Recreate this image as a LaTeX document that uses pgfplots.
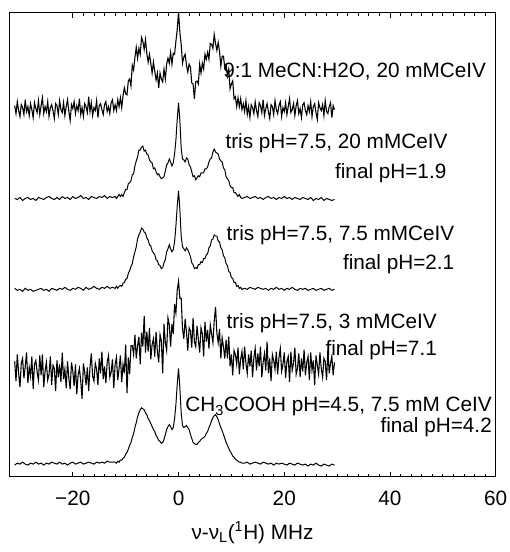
\documentclass[border=0pt]{standalone}
\usepackage{fontspec}
\setmainfont{Liberation Sans}
\usepackage{pgfplots}
\usepackage{pgfplotstable}
\pgfplotsset{compat=1.18}

\newcommand{\lbl}{\fontsize{21}{25}\selectfont}

% top trace: 9:1 MeCN:H2O
\pgfplotstableread{
x y
-31 3
-30.75 -5
-30.5 7
-30.25 -2
-30 -8
-29.75 4
-29.5 1
-29.25 -6
-29 9
-28.75 -3
-28.5 2
-28.25 -7
-28 5
-27.75 -1
-27.5 -9
-27.25 6
-27 0
-26.75 -4
-26.5 8
-26.25 -6
-26 3
-25.75 11
-25.5 -5
-25.25 2
-25 -3
-24.75 7
-24.5 -8
-24.25 1
-24 4
-23.75 -2
-23.5 -10
-23.25 5
-23 3
-22.75 -6
-22.5 8
-22.25 -1
-22 -4
-21.75 6
-21.5 -7
-21.25 2
-21 9
-20.75 -3
-20.5 -12
-20.25 4
-20 0
-19.75 7
-19.5 -5
-19.25 3
-19 -2
-18.75 10
-18.5 -6
-18.25 1
-18 -8
-17.75 5
-17.5 2
-17.25 -4
-17 12
-16.75 -3
-16.5 6
-16.25 -7
-16 1
-15.75 -2
-15.5 8
-15.25 -9
-15 3
-14.75 5
-14.5 -1
-14.25 -6
-14 4
-13.75 7
-13.5 -3
-13.25 2
-13 -5
-12.75 6
-12.5 9
-12.25 -2
-12 4
-11.75 -2
-11.5 9
-11.25 2
-11 11
-10.75 1
-10.5 13
-10.25 21
-10 15
-9.75 14
-9.5 28
-9.25 30
-9 23
-8.75 44
-8.5 39
-8.25 52
-8 62
-7.75 51
-7.5 61
-7.25 55
-7 72
-6.75 68
-6.5 60
-6.25 70
-6 56
-5.75 47
-5.5 55
-5.25 46
-5 36
-4.75 47
-4.5 38
-4.25 29
-4 36
-3.75 21
-3.5 36
-3.25 30
-3 27
-2.75 40
-2.5 30
-2.25 45
-2 51
-1.75 46
-1.5 57
-1.25 45
-1 56
-0.75 55
-0.5 68
-0.25 80
0 98
0.25 77
0.5 65
0.75 46
1 52
1.25 55
1.5 44
1.75 37
2 45
2.25 42
2.5 26
2.75 25
3 10
3.25 27
3.5 28
3.75 25
4 45
4.25 36
4.5 46
4.75 40
5 55
5.25 50
5.5 57
5.75 50
6 66
6.25 65
6.5 61
6.75 75
7 66
7.25 59
7.5 67
7.75 58
8 43
8.25 53
8.5 53
8.75 41
9 44
9.25 33
9.5 40
9.75 20
10 25
10.25 28
10.5 10
10.75 12
11 2
11.25 11
11.5 2
11.75 10
12 -1
12.25 5
12.5 -3
12.75 8
13 -6
13.25 2
13.5 -9
13.75 4
14 1
14.25 -5
14.5 7
14.75 -2
15 -8
15.25 6
15.5 3
15.75 -4
16 9
16.25 -7
16.5 0
16.75 5
17 -3
17.25 -10
17.5 4
17.75 2
18 -6
18.25 8
18.5 -1
18.75 -5
19 3
19.25 7
19.5 -8
19.75 1
20 -3
20.25 6
20.5 -6
20.75 2
21 10
21.25 -4
21.5 -1
21.75 5
22 -7
22.25 3
22.5 8
22.75 -5
23 0
23.25 -9
23.5 4
23.75 6
24 -2
24.25 -6
24.5 3
24.75 -3
25 7
25.25 -8
25.5 2
25.75 5
26 -4
26.25 -11
26.5 6
26.75 1
27 -2
27.25 4
27.5 -7
27.75 8
28 -3
28.25 -5
28.5 2
28.75 6
29 -9
29.25 3
29.5 -1
}\tA

% tris pH 7.5, 20 mM
\pgfplotstableread{
x y
-31 0
-30.5 -1
-30 1
-29.5 -2
-29 0
-28.5 1
-28 -1
-27.5 0
-27 -2
-26.5 1
-26 0
-25.5 -1
-25 1
-24.5 2
-24 0
-23.5 -1
-23 1
-22.5 -1
-22 2
-21.5 0
-21 1
-20.5 -1
-20 2
-19.5 0
-19 1
-18.5 3
-18 0
-17.5 1
-17 -1
-16.5 2
-16 1
-15.5 0
-15 2
-14.5 1
-14 3
-13.5 0
-13 2
-12.5 1
-12 2
-11.75 0
-11.5 2
-11.25 4
-11 2
-10.75 4
-10.5 2
-10.25 6
-10 9
-9.75 9
-9.5 15
-9.25 16
-9 18
-8.75 24
-8.5 25
-8.25 33
-8 38
-7.75 42
-7.5 49
-7.25 49
-7 52
-6.75 53
-6.5 48
-6.25 49
-6 45
-5.75 44
-5.5 39
-5.25 37
-5 36
-4.75 30
-4.5 31
-4.25 27
-4 24
-3.75 25
-3.5 22
-3.25 20
-3 21
-2.75 22
-2.5 28
-2.25 34
-2 36
-1.75 40
-1.5 37
-1.25 33
-1 36
-0.75 45
-0.5 59
-0.25 80
0 97
0.25 79
0.5 51
0.75 40
1 39
1.25 37
1.5 41
1.75 40
2 34
2.25 32
2.5 27
2.75 22
3 23
3.25 19
3.5 21
3.75 23
4 22
4.25 26
4.5 26
4.75 26
5 30
5.25 30
5.5 32
5.75 37
6 40
6.25 41
6.5 47
6.75 50
7 47
7.25 46
7.5 45
7.75 40
8 38
8.25 37
8.5 31
8.75 29
9 22
9.25 20
9.5 18
9.75 13
10 11
10.25 11
10.5 6
10.75 6
11 4
11.25 2
11.5 4
11.75 1
12 0
12.5 1
13 2
13.5 0
14 1
14.5 2
15 0
15.5 1
16 -1
16.5 1
17 2
17.5 0
18 1
18.5 -1
19 1
19.5 0
20 2
20.5 0
21 1
21.5 -1
22 1
22.5 0
23 -1
23.5 1
24 0
24.5 -1
25 1
25.5 -2
26 0
26.5 -1
27 1
27.5 -2
28 0
28.5 -1
29 -2
29.5 -1
}\tB

% tris pH 7.5, 7.5 mM
\pgfplotstableread{
x y
-31 1
-30.5 -1
-30 0
-29.5 -2
-29 1
-28.5 -1
-28 0
-27.5 -2
-27 -1
-26.5 0
-26 1
-25.5 -1
-25 0
-24.5 -2
-24 1
-23.5 0
-23 -1
-22.5 1
-22 0
-21.5 2
-21 0
-20.5 -1
-20 1
-19.5 0
-19 2
-18.5 1
-18 -1
-17.5 2
-17 0
-16.5 1
-16 3
-15.5 1
-15 0
-14.5 2
-14 1
-13.5 3
-13 1
-12.5 2
-12 1
-11.75 3
-11.5 1
-11.25 3
-11 4
-10.75 3
-10.5 6
-10.25 7
-10 10
-9.75 11
-9.5 16
-9.25 19
-9 23
-8.75 26
-8.5 33
-8.25 38
-8 43
-7.75 51
-7.5 55
-7.25 58
-7 62
-6.75 61
-6.5 58
-6.25 57
-6 52
-5.75 50
-5.5 45
-5.25 44
-5 39
-4.75 37
-4.5 35
-4.25 30
-4 29
-3.75 25
-3.5 24
-3.25 21
-3 22
-2.75 27
-2.5 30
-2.25 38
-2 41
-1.75 45
-1.5 41
-1.25 38
-1 40
-0.75 48
-0.5 64
-0.25 84
0 100
0.25 81
0.5 54
0.75 43
1 41
1.25 39
1.5 42
1.75 40
2 37
2.25 33
2.5 27
2.75 25
3 21
3.25 22
3.5 21
3.75 25
4 25
4.25 28
4.5 27
4.75 31
5 31
5.25 35
5.5 36
5.75 42
6 44
6.25 50
6.5 51
6.75 55
7 54
7.25 54
7.5 49
7.75 48
8 42
8.25 40
8.5 34
8.75 32
9 26
9.25 24
9.5 18
9.75 17
10 12
10.25 11
10.5 7
10.75 7
11 3
11.25 4
11.5 1
11.75 2
12 0
12.5 1
13 0
13.5 2
14 1
14.5 0
15 2
15.5 1
16 0
16.5 1
17 -1
17.5 1
18 0
18.5 2
19 0
19.5 1
20 -1
20.5 1
21 0
21.5 2
22 0
22.5 -1
23 1
23.5 0
24 1
24.5 -1
25 0
25.5 1
26 -1
26.5 0
27 1
27.5 -1
28 0
28.5 1
29 -1
29.5 0
}\tC

% tris pH 7.5, 3 mM
\pgfplotstableread{
x y
-31 11
-30.75 -9
-30.5 18
-30.25 -1
-30 -15
-29.75 9
-29.5 14
-29.25 -6
-29 6
-28.75 20
-28.5 -11
-28.25 5
-28 -4
-27.75 16
-27.5 -17
-27.25 8
-27 12
-26.75 0
-26.5 -8
-26.25 17
-26 -3
-25.75 18
-25.5 -15
-25.25 1
-25 10
-24.75 -8
-24.5 -2
-24.25 16
-24 -13
-23.75 7
-23.5 4
-23.25 -19
-23 12
-22.75 -5
-22.5 8
-22.25 -10
-22 20
-21.75 -7
-21.5 3
-21.25 -16
-21 11
-20.75 -6
-20.5 -17
-20.25 10
-20 1
-19.75 -14
-19.5 8
-19.25 -22
-19 -3
-18.75 4
-18.5 -9
-18.25 -27
-18 9
-17.75 0
-17.5 -13
-17.25 5
-17 -19
-16.75 5
-16.5 19
-16.25 -4
-16 -9
-15.75 9
-15.5 3
-15.25 -13
-15 14
-14.75 -1
-14.5 21
-14.25 -7
-14 6
-13.75 -11
-13.5 10
-13.25 17
-13 -5
-12.75 0
-12.5 13
-12.25 -16
-12 8
-11.75 15
-11.5 -8
-11.25 4
-11 17
-10.75 -10
-10.5 8
-10.25 -1
-10 28
-9.75 -21
-9.5 15
-9.25 -2
-9 27
-8.75 27
-8.5 18
-8.25 38
-8 14
-7.75 27
-7.5 36
-7.25 8
-7 40
-6.75 26
-6.5 57
-6.25 20
-6 41
-5.75 21
-5.5 45
-5.25 13
-5 28
-4.75 34
-4.5 16
-4.25 41
-4 21
-3.75 10
-3.5 38
-3.25 32
-3 -1
-2.75 49
-2.5 30
-2.25 22
-2 55
-1.75 48
-1.5 26
-1.25 49
-1 39
-0.75 69
-0.5 60
-0.25 83
0 92
0.25 75
0.5 75
0.75 44
1 34
1.25 54
1.5 41
1.75 22
2 45
2.25 42
2.5 25
2.75 55
3 31
3.25 26
3.5 47
3.75 33
4 20
4.25 45
4.5 39
4.75 16
5 51
5.25 31
5.5 43
5.75 24
6 48
6.25 39
6.5 30
6.75 52
7 66
7.25 40
7.5 30
7.75 44
8 14
8.25 35
8.5 26
8.75 14
9 33
9.25 14
9.5 36
9.75 6
10 18
10.25 -3
10.5 22
10.75 18
11 8
11.25 25
11.5 -2
11.75 13
12 21
12.25 3
12.5 26
12.75 9
13 -1
13.25 18
13.5 6
13.75 22
14 -5
14.25 15
14.5 24
14.75 2
15 19
15.25 6
15.5 26
15.75 -5
16 10
16.25 19
16.5 2
16.75 31
17 -1
17.25 14
17.5 -9
17.75 18
18 12
18.25 3
18.5 21
18.75 -2
19 15
19.25 24
19.5 1
19.75 8
20 20
20.25 -6
20.5 11
20.75 16
21 -10
21.25 21
21.5 2
21.75 9
22 25
22.25 -2
22.5 4
22.75 19
23 -5
23.25 14
23.5 1
23.75 23
24 -3
24.25 10
24.5 16
24.75 -8
25 20
25.25 2
25.5 12
25.75 -13
26 17
26.25 7
26.5 -2
26.75 20
27 4
27.25 -5
27.5 14
27.75 11
28 -8
28.25 23
28.5 -1
28.75 9
29 16
29.25 -3
29.5 10
}\tD

% CH3COOH pH 4.5
\pgfplotstableread{
x y
-31 -1
-30.5 1
-30 0
-29.5 2
-29 0
-28.5 -1
-28 1
-27.5 0
-27 2
-26.5 0
-26 1
-25.5 -1
-25 1
-24.5 0
-24 2
-23.5 1
-23 0
-22.5 2
-22 0
-21.5 1
-21 -1
-20.5 1
-20 2
-19.5 0
-19 1
-18.5 2
-18 0
-17.5 1
-17 2
-16.5 1
-16 0
-15.5 2
-15 1
-14.5 2
-14 1
-13.5 3
-13 2
-12.5 2
-12 2
-11.75 1
-11.5 3
-11.25 2
-11 4
-10.75 4
-10.5 6
-10.25 7
-10 10
-9.75 12
-9.5 15
-9.25 19
-9 22
-8.75 27
-8.5 31
-8.25 37
-8 42
-7.75 48
-7.5 52
-7.25 55
-7 57
-6.75 56
-6.5 55
-6.25 52
-6 50
-5.75 46
-5.5 44
-5.25 41
-5 38
-4.75 35
-4.5 33
-4.25 29
-4 27
-3.75 24
-3.5 23
-3.25 21
-3 22
-2.75 25
-2.5 30
-2.25 35
-2 38
-1.75 40
-1.5 38
-1.25 35
-1 37
-0.75 46
-0.5 60
-0.25 81
0 97
0.25 77
0.5 52
0.75 39
1 37
1.25 38
1.5 39
1.75 37
2 35
2.25 30
2.5 26
2.75 22
3 21
3.25 20
3.5 20
3.75 22
4 23
4.25 25
4.5 26
4.75 27
5 28
5.25 31
5.5 33
5.75 37
6 40
6.25 44
6.5 47
6.75 49
7 50
7.25 48
7.5 45
7.75 41
8 37
8.25 34
8.5 30
8.75 26
9 22
9.25 19
9.5 16
9.75 13
10 11
10.25 8
10.5 7
10.75 5
11 4
11.25 3
11.5 2
11.75 2
12 1
12.5 1
13 2
13.5 0
14 1
14.5 2
15 1
15.5 0
16 2
16.5 1
17 0
17.5 1
18 -1
18.5 1
19 0
19.5 1
20 0
20.5 -1
21 1
21.5 0
22 -1
22.5 1
23 0
23.5 -1
24 0
24.5 -2
25 0
25.5 -1
26 1
26.5 -1
27 -2
27.5 0
28 -1
28.5 -2
29 0
29.5 -1
}\tE

\begin{document}
\begin{tikzpicture}
\begin{axis}[
    name=ax,
    scale only axis,
    width=492.5pt, height=470pt,
    xmin=-32, xmax=60,
    ymin=0, ymax=470,
    xtick={-20,0,20,40,60},
    xticklabels={−20,0,20,40,60},
    minor x tick num=9,
    ytick=\empty,
    tick align=inside,
    major tick length=5pt,
    minor tick length=3pt,
    every tick/.style={black, line width=0.8pt},
    axis line style={line width=1pt},
    xticklabel style={font=\lbl, inner sep=0pt, anchor=north, yshift=-14pt},
    xlabel={ν-ν\textsubscript{L}(\textsuperscript{1}H) MHz},
    xlabel style={font=\lbl, inner sep=0pt, at={(axis description cs:0.5,0)}, anchor=north, yshift=-45pt},
    clip=true,
]
\addplot[black, line width=1.1pt] table[x=x, y expr=\thisrow{y}+373] {\tA};
\addplot[black, line width=1pt] table[x=x, y expr=\thisrow{y}+282] {\tB};
\addplot[black, line width=1pt] table[x=x, y expr=\thisrow{y}+190] {\tC};
\addplot[black, line width=1.1pt] table[x=x, y expr=\thisrow{y}+106] {\tD};
\addplot[black, line width=1pt] table[x=x, y expr=\thisrow{y}+13] {\tE};

\node[anchor=east, inner sep=0pt, font=\lbl] at (axis cs:58.2,411) {9:1 MeCN:H2O, 20 mMCeIV};
\node[anchor=east, inner sep=0pt, font=\lbl] at (axis cs:50.9,338) {tris pH=7.5, 20 mMCeIV};
\node[anchor=east, inner sep=0pt, font=\lbl] at (axis cs:50.7,308) {final pH=1.9};
\node[anchor=east, inner sep=0pt, font=\lbl] at (axis cs:52.2,245) {tris pH=7.5, 7.5 mMCeIV};
\node[anchor=east, inner sep=0pt, font=\lbl] at (axis cs:52.2,216) {final pH=2.1};
\node[anchor=east, inner sep=0pt, font=\lbl] at (axis cs:48.9,156) {tris pH=7.5, 3 mMCeIV};
\node[anchor=east, inner sep=0pt, font=\lbl] at (axis cs:48.9,128) {final pH=7.1};
\node[anchor=east, inner sep=0pt, font=\lbl] at (axis cs:59.3,71) {CH\textsubscript{3}COOH pH=4.5, 7.5 mM CeIV};
\node[anchor=east, inner sep=0pt, font=\lbl] at (axis cs:59.3,50) {final pH=4.2};
\end{axis}
\path ([xshift=-9.5pt, yshift=13pt]ax.north west) -- ([xshift=14pt, yshift=13pt]ax.north east);
\path ([yshift=-76pt]ax.south west);
\end{tikzpicture}
\end{document}
